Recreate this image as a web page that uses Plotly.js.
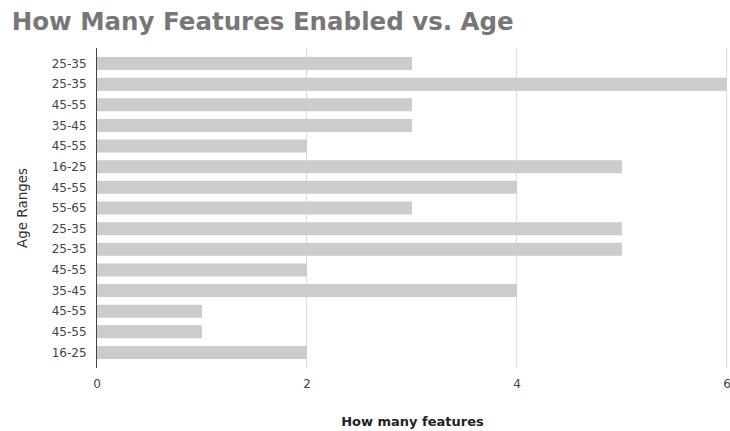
<!DOCTYPE html>
<html>
<head>
<meta charset="utf-8">
<script src="https://cdn.plot.ly/plotly-3.0.1.min.js"></script>
<style>html,body{margin:0;padding:0;background:#fff;}#chart{width:730px;height:431px;}</style>
</head>
<body>
<div id="chart"></div>
<script>
const ageLabels = ["25-35","25-35","45-55","35-45","45-55","16-25","45-55","55-65","25-35","25-35","45-55","35-45","45-55","45-55","16-25"];
const featureCounts = [3,6,3,3,2,5,4,3,5,5,2,4,1,1,2];
const xTicks = [0,2,4,6];

const rowIndex = ageLabels.map((_, i) => i);

const trace = {
  type: 'bar',
  orientation: 'h',
  x: featureCounts,
  y: rowIndex,
  width: 0.63,
  marker: {color: '#cccccc'},
  hoverinfo: 'x+text',
  text: ageLabels,
  textposition: 'none'
};

const layout = {
  width: 730, height: 431,
  margin: {l: 97, r: 2, t: 48, b: 63},
  paper_bgcolor: '#ffffff',
  plot_bgcolor: '#ffffff',
  showlegend: false,
  title: {
    text: 'How Many Features Enabled vs. Age',
    x: 0.016, xanchor: 'left', xref: 'container',
    y: 0.95, yanchor: 'middle', yref: 'container',
    font: {family: 'DejaVu Sans', size: 24.5, color: '#777777', weight: 'bold'}
  },
  xaxis: {
    range: [0, 6.01],
    tickvals: xTicks,
    ticktext: xTicks.map(String),
    showgrid: true,
    gridcolor: '#dddddd',
    gridwidth: 1,
    zeroline: false,
    showline: false,
    ticks: '',
    ticklabelstandoff: 7,
    ticklabeloverflow: 'allow',
    tickfont: {family: 'DejaVu Sans', size: 12, color: '#444444'},
    title: {text: '<b>How many features</b>', font: {family: 'DejaVu Sans', size: 13, color: '#222222'}, standoff: 26}
  },
  yaxis: {
    range: [14.75, -0.75],
    tickvals: rowIndex,
    ticktext: ageLabels,
    showgrid: false,
    zeroline: false,
    showline: true,
    linecolor: '#444444',
    linewidth: 1,
    ticks: '',
    ticklabelstandoff: 7,
    tickfont: {family: 'DejaVu Sans', size: 12, color: '#444444'},
    title: {text: 'Age Ranges', font: {family: 'DejaVu Sans', size: 13.5, color: '#333333'}, standoff: 20}
  }
};

Plotly.newPlot('chart', [trace], layout, {displayModeBar: false, staticPlot: true});
</script>
</body>
</html>
